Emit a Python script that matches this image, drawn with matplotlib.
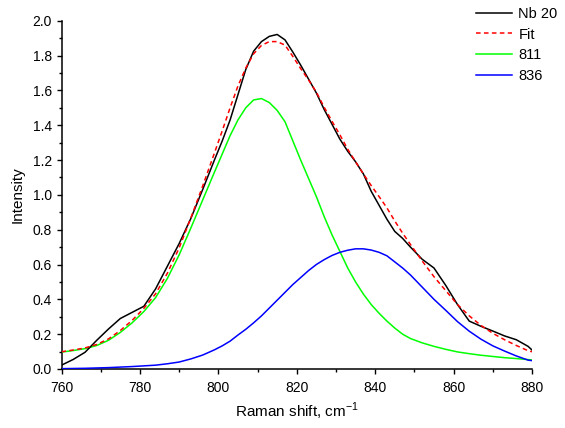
import numpy as np
import matplotlib
matplotlib.use('Agg')
import matplotlib.pyplot as plt
from matplotlib.ticker import MultipleLocator

'''Raman spectrum of Nb 20 with two-band fit'''

plt.rcParams['font.family'] = ['Liberation Sans', 'DejaVu Sans']
plt.rcParams['mathtext.fontset'] = 'custom'
plt.rcParams['mathtext.rm'] = 'Liberation Sans'

#Raman shift grid (cm-1), denser around the peaks
shift = [760, 763, 766, 769, 772, 775, 778, 781, 784, 787, 790, 793, 796, 799,
         801, 803, 805, 807, 809, 811, 813, 815, 817, 819, 821, 823, 825, 827,
         829, 831, 833, 835, 837, 839, 841, 843, 845, 847, 849,
         852, 855, 858, 861, 864, 867, 870, 873, 876, 879, 880]

#Measured spectrum
nb20 = [0.022, 0.055, 0.096, 0.165, 0.23, 0.29, 0.325, 0.36, 0.46, 0.59, 0.72,
        0.865, 1.03, 1.2,
        1.31, 1.43, 1.575, 1.72, 1.825, 1.88, 1.91, 1.921, 1.89, 1.82, 1.745,
        1.665, 1.585, 1.49, 1.405, 1.32, 1.25, 1.19, 1.12, 1.02, 0.94, 0.86,
        0.79, 0.75, 0.70,
        0.63, 0.58, 0.48, 0.37, 0.275, 0.245, 0.218, 0.19, 0.168, 0.13, 0.109]

#Cumulative fit
fit = [0.099, 0.109, 0.121, 0.141, 0.173, 0.221, 0.279, 0.348, 0.432, 0.55,
       0.695, 0.868, 1.05, 1.24,
       1.368, 1.50, 1.625, 1.728, 1.81, 1.858, 1.88, 1.88, 1.86, 1.795, 1.725,
       1.66, 1.59, 1.503, 1.422, 1.345, 1.262, 1.19, 1.12, 1.053, 0.99,
       0.925, 0.85, 0.78, 0.715,
       0.62, 0.53, 0.45, 0.37, 0.305, 0.25, 0.205, 0.168, 0.135, 0.105, 0.099]

#Band at 811
band811 = [0.097, 0.106, 0.117, 0.135, 0.165, 0.21, 0.265, 0.33, 0.41, 0.52,
           0.655, 0.81, 0.97, 1.13,
           1.235, 1.34, 1.43, 1.50, 1.545, 1.553, 1.53, 1.485, 1.42, 1.31,
           1.20, 1.095, 0.99, 0.875, 0.77, 0.675, 0.58, 0.50, 0.43, 0.37,
           0.32, 0.275, 0.235, 0.20, 0.175,
           0.15, 0.13, 0.113, 0.098, 0.088, 0.079, 0.072, 0.065, 0.06, 0.054,
           0.052]

#Band at 836
band836 = [0.002, 0.003, 0.004, 0.006, 0.008, 0.011, 0.014, 0.018, 0.022,
           0.03, 0.04, 0.058, 0.08, 0.11,
           0.133, 0.16, 0.195, 0.228, 0.265, 0.305, 0.35, 0.395, 0.44, 0.485,
           0.525, 0.565, 0.60, 0.628, 0.652, 0.67, 0.682, 0.69, 0.69, 0.683,
           0.67, 0.65, 0.615, 0.58, 0.54,
           0.47, 0.40, 0.337, 0.272, 0.217, 0.171, 0.133, 0.103, 0.075, 0.051,
           0.048]

fig = plt.figure(figsize=(5.65, 4.28), dpi=100)
ax = fig.add_axes([61.5 / 565, 1 - 369 / 428, (532 - 61.5) / 565, (369 - 20.7) / 428])

ax.plot(shift, nb20, color='black', lw=1.1, label='Nb 20', zorder=4)
ax.plot(shift, fit, color='red', lw=1.1, ls=(0, (3, 2.2)), label='Fit', zorder=5)
ax.plot(shift, band811, color='#00ff00', lw=1.1, label='811', zorder=3)
ax.plot(shift, band836, color='#0000ff', lw=1.1, label='836', zorder=3)

ax.set_xlim(760, 880)
ax.set_ylim(0, 2.0)
ax.xaxis.set_major_locator(MultipleLocator(20))
ax.xaxis.set_minor_locator(MultipleLocator(10))
ax.yaxis.set_major_locator(MultipleLocator(0.2))
ax.yaxis.set_minor_locator(MultipleLocator(0.1))
ax.yaxis.set_major_formatter(matplotlib.ticker.FormatStrFormatter('%.1f'))

for s in ['top', 'right']:
    ax.spines[s].set_visible(False)
for s in ['left', 'bottom']:
    ax.spines[s].set_linewidth(1.1)

ax.tick_params(which='major', direction='out', length=3.8, width=1.0, labelsize=10)
ax.tick_params(which='minor', direction='out', length=2.2, width=1.0)
ax.tick_params(axis='x', which='major', pad=5)
ax.tick_params(axis='y', which='major', pad=3)

ax.set_xlabel(r'Raman shift, cm$^{\mathregular{-1}}$', fontsize=11, labelpad=4)
ax.set_ylabel('Intensity', fontsize=11, labelpad=6)

fig.legend(loc='upper left', bbox_to_anchor=(476 / 565, 1 - 7 / 428), frameon=False,
           fontsize=10.5, handlelength=2.5, handletextpad=0.4, labelspacing=0.45,
           borderpad=0, borderaxespad=0)

fig.savefig('out.png', dpi=100)
